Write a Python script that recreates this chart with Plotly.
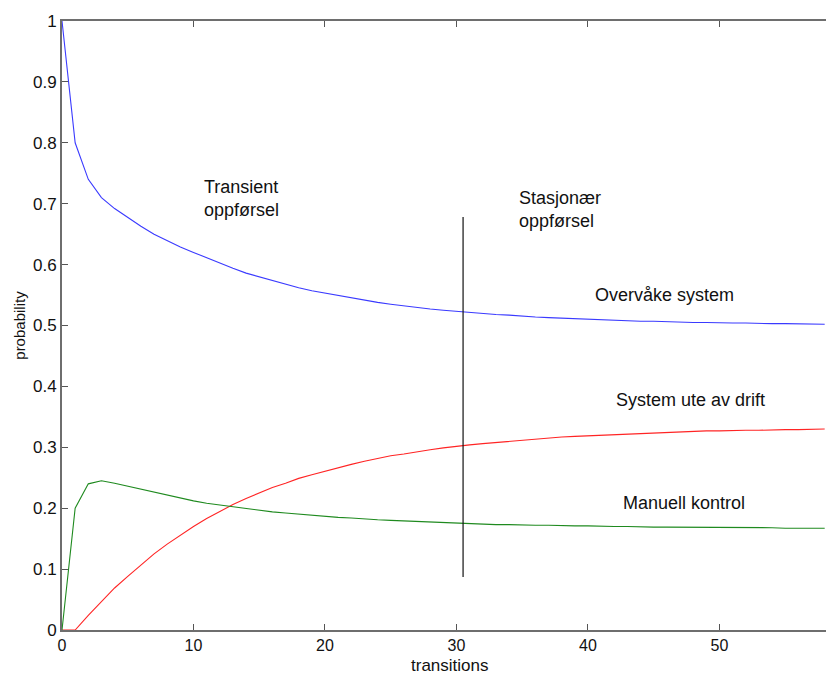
import plotly.graph_objects as go

# Transition steps
transitions = list(range(0, 59))

# State probabilities after each transition
overvake_system = [
    1.000, 0.800, 0.740, 0.710, 0.692, 0.677, 0.663, 0.650, 0.639, 0.629,
    0.620, 0.611, 0.602, 0.594, 0.586, 0.580, 0.573, 0.567, 0.562, 0.557,
    0.553, 0.549, 0.545, 0.541, 0.538, 0.535, 0.532, 0.530, 0.527, 0.525,
    0.523, 0.521, 0.520, 0.518, 0.517, 0.515, 0.514, 0.513, 0.512, 0.511,
    0.510, 0.509, 0.509, 0.508, 0.507, 0.507, 0.506, 0.506, 0.505, 0.505,
    0.504, 0.504, 0.504, 0.503, 0.503, 0.503, 0.503, 0.503, 0.502,
]
system_ute_av_drift = [
    0.000, 0.000, 0.024, 0.047, 0.069, 0.088, 0.107, 0.125, 0.141, 0.156,
    0.170, 0.183, 0.195, 0.206, 0.216, 0.225, 0.234, 0.241, 0.249, 0.255,
    0.261, 0.267, 0.272, 0.277, 0.282, 0.286, 0.289, 0.293, 0.296, 0.299,
    0.302, 0.304, 0.306, 0.308, 0.310, 0.312, 0.314, 0.315, 0.317, 0.318,
    0.319, 0.320, 0.321, 0.322, 0.323, 0.324, 0.325, 0.325, 0.326, 0.327,
    0.327, 0.328, 0.328, 0.328, 0.329, 0.329, 0.329, 0.330, 0.330,
]
manuell_kontrol = [
    0.000, 0.200, 0.240, 0.245, 0.241, 0.236, 0.231, 0.227, 0.222, 0.217,
    0.212, 0.208, 0.205, 0.202, 0.199, 0.197, 0.194, 0.192, 0.190, 0.188,
    0.187, 0.185, 0.184, 0.182, 0.181, 0.180, 0.179, 0.178, 0.177, 0.176,
    0.175, 0.175, 0.174, 0.173, 0.173, 0.172, 0.172, 0.172, 0.171, 0.171,
    0.171, 0.170, 0.170, 0.170, 0.169, 0.169, 0.169, 0.169, 0.169, 0.168,
    0.168, 0.168, 0.168, 0.168, 0.168, 0.167, 0.167, 0.167, 0.167,
]

# Boundary between transient and steady-state behaviour
boundary_x = 30.5
boundary_y = [0.087, 0.678]

x_ticks = [0, 10, 20, 30, 40, 50]
y_ticks = [0, 0.1, 0.2, 0.3, 0.4, 0.5, 0.6, 0.7, 0.8, 0.9, 1]
y_tick_text = ["0", "0.1", "0.2", "0.3", "0.4", "0.5", "0.6", "0.7", "0.8", "0.9", "1"]

labels = [
    ("Transient<br>oppførsel", 10.65, 0.708),
    ("Stasjonær<br>oppførsel", 34.6, 0.690),
    ("Overvåke system", 40.4, 0.550),
    ("System ute av drift", 41.95, 0.378),
    ("Manuell kontrol", 42.5, 0.209),
]

FONT = "Liberation Sans, Arial, sans-serif"

fig = go.Figure()
fig.add_trace(go.Scatter(x=transitions, y=overvake_system, mode="lines",
                         line=dict(color="#3a3aff", width=1.1)))
fig.add_trace(go.Scatter(x=transitions, y=system_ute_av_drift, mode="lines",
                         line=dict(color="#ff2424", width=1.1)))
fig.add_trace(go.Scatter(x=transitions, y=manuell_kontrol, mode="lines",
                         line=dict(color="#1f8a1f", width=1.1)))
fig.add_trace(go.Scatter(x=[boundary_x, boundary_x], y=boundary_y, mode="lines",
                         line=dict(color="#111111", width=1.2)))

for text, x, y in labels:
    fig.add_annotation(x=x, y=y, text=text, showarrow=False, xanchor="left",
                       yanchor="middle", align="left",
                       font=dict(family=FONT, size=18, color="#111111"))

fig.add_annotation(xref="paper", yref="paper", x=0.507, y=-0.0755, text="transitions",
                   showarrow=False, xanchor="center", yanchor="bottom", borderpad=0,
                   font=dict(family=FONT, size=17, color="#111111"))
fig.add_annotation(xref="paper", yref="paper", x=-0.056, y=0.50, text="probability",
                   showarrow=False, textangle=-90, xanchor="center", yanchor="middle",
                   font=dict(family=FONT, size=15, color="#111111"))

axis_common = dict(
    showgrid=False, zeroline=False, showline=True, linecolor="#6e6e6e", linewidth=2,
    ticks="inside", ticklen=6, tickcolor="#555555", tickwidth=1,
)

fig.update_layout(
    width=826, height=677,
    margin=dict(l=62, r=0, t=21, b=47),
    paper_bgcolor="white", plot_bgcolor="white",
    showlegend=False,
    xaxis=dict(range=[0, 58.1], tickvals=x_ticks, mirror="ticks",
               tickfont=dict(family=FONT, size=16, color="#111111"), **axis_common),
    yaxis=dict(range=[0, 1], tickvals=y_ticks, ticktext=y_tick_text,
               tickfont=dict(family=FONT, size=17, color="#111111"), **axis_common),
)

fig.write_html("out.html")
